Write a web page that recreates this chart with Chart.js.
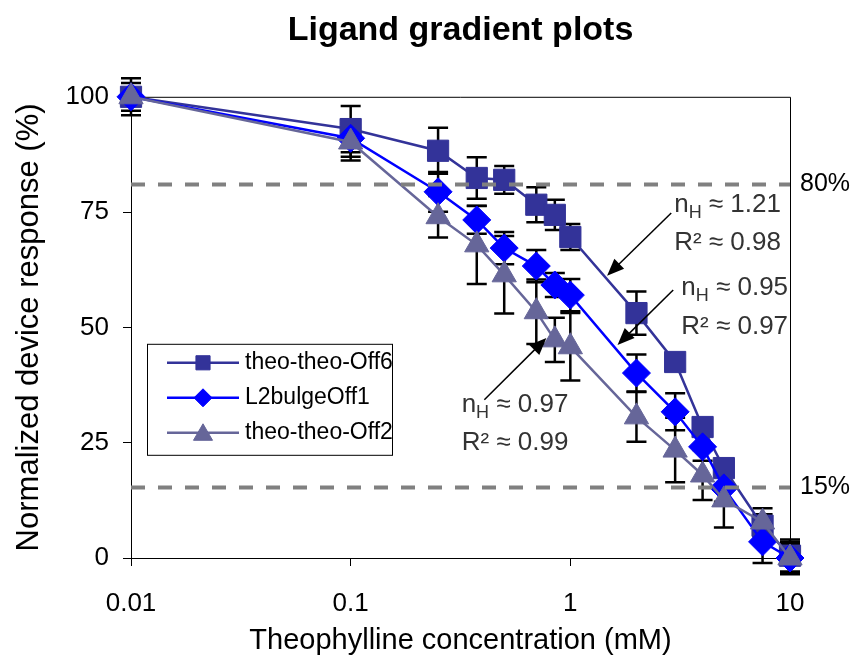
<!DOCTYPE html>
<html>
<head>
<meta charset="utf-8">
<script src="https://cdn.jsdelivr.net/npm/chart.js@4.4.1/dist/chart.umd.min.js"></script>
<style>
html,body{margin:0;padding:0;background:#fff}
canvas{display:block}
</style>
</head>
<body>
<canvas id="ligandChart" width="854" height="659"></canvas>
<script>
// concentrations (mM) and normalized responses (%)
const conc=[0.01,0.1,0.25,0.375,0.5,0.7,0.85,1,2,3,4,5,7.5,10];
const off6=[100,93,88.3,82.4,82,76.6,74.4,69.6,53.1,42.5,28.4,19.5,7,0.5];
const off6Err=[1.5,5,5,4.5,3,3.8,3.3,2.8,4.7,1.5,1.5,1.5,2.5,3.5];
const bulge=[100,91,79.4,73.3,67.2,63.3,59.2,57,40.1,31.7,24.1,15.2,3.5,0];
const bulgeErr=[3,4,4.3,3,3.5,3.5,2.6,3.5,4,4,3,3,4.6,3];
const off2=[100,90.2,74,67.9,61.4,53.4,47.3,45.8,30.6,23.4,18,12.6,7.8,0];
const off2Err=[4,4,4.5,8.5,8.4,7,4.8,7.3,5.4,7,5.4,6,3,3.5];
const seriesNames=['theo-theo-Off6','L2bulgeOff1','theo-theo-Off2'];
const xTicks=[0.01,0.1,1,10];
const yTicks=[0,25,50,75,100];
const refX=[0.01,10];
const ref80=[81,81];
const ref15=[15.3,15.3];
const refLabels=['80%','15%'];
const hillN=['1.21','0.95','0.97'];
const hillR2=['0.98','0.97','0.99'];

const FONT='"Liberation Sans", Arial, sans-serif';
const colors=['#333399','#0000FF','#666699'];
const shapes=['rect','rectRot','triangle'];

function pts(vals){return conc.map((c,i)=>({x:c,y:vals[i]}));}

function series(i,vals,r,order){
return{
label:seriesNames[i],
data:pts(vals),
borderColor:colors[i],
backgroundColor:colors[i],
borderWidth:2.5,
pointStyle:shapes[i],
pointRadius:r,
pointHoverRadius:r,
pointBorderWidth:1,
order:order,
clip:false
};
}

function refLine(vals){
return{
data:refX.map((x,i)=>({x:x,y:vals[i]})),
borderColor:'#808080',
borderWidth:4,
borderDash:[14,13],
pointRadius:0,
order:0
};
}

// error bars drawn through the scales
const errorBars={
id:'errorBars',
beforeDatasetsDraw(chart){
const {ctx,scales:{x,y}}=chart;
ctx.save();
ctx.strokeStyle='#000';
ctx.lineWidth=2.5;
[[off6,off6Err],[bulge,bulgeErr],[off2,off2Err]].forEach(([vals,errs])=>{
conc.forEach((c,i)=>{
const px=x.getPixelForValue(c);
const t=y.getPixelForValue(vals[i]+errs[i]);
const b=y.getPixelForValue(vals[i]-errs[i]);
ctx.beginPath();
ctx.moveTo(px,t);ctx.lineTo(px,b);
ctx.moveTo(px-10,t);ctx.lineTo(px+10,t);
ctx.moveTo(px-10,b);ctx.lineTo(px+10,b);
ctx.stroke();
});
});
// top and right frame
const a=chart.chartArea;
ctx.lineWidth=1;
ctx.beginPath();
ctx.moveTo(a.left,a.top+0.5);ctx.lineTo(a.right+0.5,a.top+0.5);ctx.lineTo(a.right+0.5,a.bottom);
ctx.stroke();
ctx.restore();
}
};

function arrow(ctx,x1,y1,x2,y2){
const ang=Math.atan2(y2-y1,x2-x1);
const L=17,W=7;
ctx.beginPath();
ctx.moveTo(x1,y1);
ctx.lineTo(x2-Math.cos(ang)*L*0.8,y2-Math.sin(ang)*L*0.8);
ctx.stroke();
ctx.beginPath();
ctx.moveTo(x2,y2);
ctx.lineTo(x2-Math.cos(ang)*L-Math.sin(ang)*W,y2-Math.sin(ang)*L+Math.cos(ang)*W);
ctx.lineTo(x2-Math.cos(ang)*L+Math.sin(ang)*W,y2-Math.sin(ang)*L-Math.cos(ang)*W);
ctx.closePath();
ctx.fill();
}

// annotation anchors in data units: text left, two text rows, arrow tail, arrow head
const notePos=[
{x:2.97,y1:76.6,y2:68.3,tail:[2.88,74.8],head:[1.47,61.2]},
{x:3.2,y1:58.6,y2:50.1,tail:[2.94,58.1],head:[1.64,46.2]},
{x:0.32,y1:33.2,y2:24.9,tail:[0.406,34.3],head:[0.778,47.7]}
];

const annotations={
id:'annotations',
afterDatasetsDraw(chart){
const {ctx,scales:{x,y}}=chart;
ctx.save();
ctx.fillStyle='#000';
ctx.strokeStyle='#000';
ctx.lineWidth=1.5;
notePos.forEach((n,i)=>{
arrow(ctx,x.getPixelForValue(n.tail[0]),y.getPixelForValue(n.tail[1]),
x.getPixelForValue(n.head[0]),y.getPixelForValue(n.head[1]));
});
ctx.fillStyle='#333';
ctx.textBaseline='middle';
ctx.textAlign='left';
notePos.forEach((n,i)=>{
let px=x.getPixelForValue(n.x);
const py1=y.getPixelForValue(n.y1);
const py2=y.getPixelForValue(n.y2);
ctx.font='26px '+FONT;
ctx.fillText('n',px,py1);
let w=ctx.measureText('n').width;
ctx.font='18px '+FONT;
ctx.fillText('H',px+w,py1+8);
w+=ctx.measureText('H').width;
ctx.font='26px '+FONT;
ctx.fillText(' \u2248 '+hillN[i],px+w,py1);
ctx.fillText('R\u00b2 \u2248 '+hillR2[i],px,py2);
});
// reference line labels
ctx.fillStyle='#000';
ctx.font='25px '+FONT;
const a=chart.chartArea;
[ref80[0],ref15[0]].forEach((v,i)=>{
ctx.fillText(refLabels[i],a.right+10,y.getPixelForValue(v));
});
ctx.restore();
}
};

// boxed legend inside the plot
const boxLegend={
id:'boxLegend',
afterDraw(chart){
const {ctx}=chart;
const a=chart.chartArea;
const bx=a.left+16,by=a.top+247,bw=245,bh=111;
ctx.save();
ctx.fillStyle='#fff';
ctx.fillRect(bx,by,bw,bh);
ctx.strokeStyle='#000';
ctx.lineWidth=1;
ctx.strokeRect(bx+0.5,by+0.5,bw,bh);
const rad=[10,9,11];
seriesNames.forEach((name,i)=>{
const cy=by+19+i*35;
ctx.strokeStyle=colors[i];
ctx.lineWidth=2.5;
ctx.beginPath();
ctx.moveTo(bx+20,cy);ctx.lineTo(bx+92,cy);
ctx.stroke();
ctx.fillStyle=colors[i];
ctx.lineWidth=1;
Chart.helpers.drawPoint(ctx,{pointStyle:shapes[i],radius:rad[i],borderWidth:1},bx+56,cy+(i===2?2:0));
ctx.fillStyle='#000';
ctx.font='23px '+FONT;
ctx.textBaseline='middle';
ctx.fillText(name,bx+98,cy);
});
ctx.restore();
}
};

new Chart(document.getElementById('ligandChart'),{
type:'line',
data:{
datasets:[
series(0,off6,15,3),
series(1,bulge,14,2),
series(2,off2,14,1),
refLine(ref80),
refLine(ref15)
]
},
options:{
responsive:false,
devicePixelRatio:1,
animation:false,
events:[],
layout:{padding:{left:0,right:64,top:0,bottom:0}},
plugins:{
legend:{display:false},
tooltip:{enabled:false},
title:{
display:true,
fullSize:false,
text:'Ligand gradient plots',
color:'#000',
font:{family:FONT,size:34,weight:'bold'},
padding:{top:10,bottom:46}
}
},
scales:{
x:{
type:'logarithmic',
min:0.01,
max:10,
afterBuildTicks:s=>{s.ticks=xTicks.map(v=>({value:v}));},
afterFit:s=>{s.height=101;},
ticks:{color:'#000',font:{family:FONT,size:26},padding:22,maxRotation:0,autoSkip:false,callback:v=>String(v)},
grid:{display:true,drawOnChartArea:false,drawTicks:true,tickLength:8,color:'#000'},
border:{display:true,color:'#000',width:1},
title:{display:true,text:'Theophylline concentration (mM)',color:'#000',font:{family:FONT,size:29},padding:{top:0,bottom:1}}
},
y:{
type:'linear',
min:0,
max:100,
afterBuildTicks:s=>{s.ticks=yTicks.map(v=>({value:v}));},
afterFit:s=>{s.width=131;},
ticks:{color:'#000',font:{family:FONT,size:26},padding:14},
grid:{display:true,drawOnChartArea:false,drawTicks:true,tickLength:8,color:'#000'},
border:{display:true,color:'#000',width:1},
title:{display:true,text:'Normalized device response (%)',color:'#000',font:{family:FONT,size:31},padding:{top:11,bottom:0}}
}
}
},
plugins:[errorBars,annotations,boxLegend]
});
</script>
</body>
</html>
